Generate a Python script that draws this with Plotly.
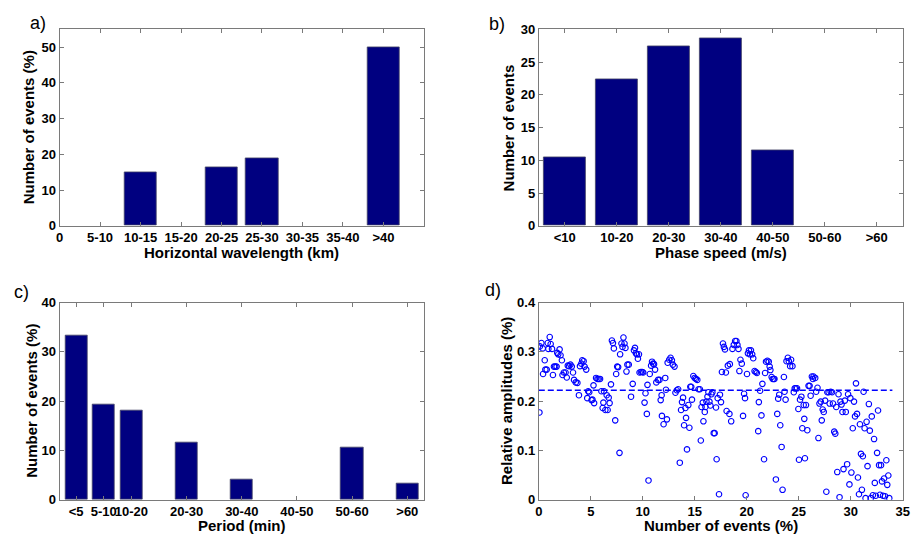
import plotly.graph_objects as go

# ---- data ----
wavelength_labels = ["0", "5-10", "10-15", "15-20", "20-25", "25-30", "30-35", "35-40", ">40"]
wavelength_pct = [0, 0, 14.9, 0, 16.3, 19.0, 0, 0, 50.0]

speed_labels = ["<10", "10-20", "20-30", "30-40", "40-50", "50-60", ">60"]
speed_counts = [10.4, 22.4, 27.4, 28.6, 11.5, 0, 0]

period_centers = [5, 10, 15, 25, 35, 45, 55, 65]
period_labels = ["<5", "5-10", "10-20", "20-30", "30-40", "40-50", "50-60", ">60"]
period_pct = [33.3, 19.3, 18.0, 11.6, 4.1, 0, 10.5, 3.2]

events_pct = [
    0.06, 0.10, 0.25, 0.38, 0.41, 0.57, 0.63, 0.76, 0.86, 0.92, 1.05, 1.14, 1.27, 1.36, 1.46,
    1.58, 1.71, 1.77, 1.87, 2.00, 2.09, 2.22, 2.28, 2.41, 2.57, 2.69, 2.79, 2.91, 3.04, 3.17,
    3.29, 3.39, 3.55, 3.71, 3.86, 3.96, 4.09, 4.18, 4.31, 4.40, 4.56, 4.66, 4.75, 4.85, 5.07,
    5.16, 5.26, 5.32, 5.51, 5.64, 5.76, 5.89, 6.02, 6.14, 6.21, 6.27, 6.40, 6.53, 6.62, 6.72,
    6.81, 6.94, 7.03, 7.13, 7.22, 7.35, 7.44, 7.54, 7.63, 7.76, 7.82, 7.95, 8.05, 8.14, 8.24,
    8.33, 8.43, 8.52, 8.65, 8.87, 9.03, 9.15, 9.25, 9.34, 9.44, 9.53, 9.63, 9.69, 9.82, 9.95,
    10.04, 10.17, 10.26, 10.39, 10.45, 10.55, 10.67, 10.80, 10.89, 10.99, 11.08, 11.18, 11.30,
    11.47, 11.60, 11.72, 11.81, 11.84, 12.00, 12.16, 12.23, 12.32, 12.39, 12.54, 12.67, 12.80,
    12.89, 13.05, 13.14, 13.27, 13.40, 13.56, 13.68, 13.77, 13.87, 13.97, 14.10, 14.16, 14.25,
    14.38, 14.48, 14.57, 14.66, 14.73, 14.86, 14.99, 15.11, 15.24, 15.36, 15.49, 15.58, 15.65,
    15.77, 15.83, 15.96, 16.02, 16.12, 16.22, 16.31, 16.41, 16.50, 16.60, 16.69, 16.82, 16.91,
    17.04, 17.10, 17.20, 17.33, 17.42, 17.52, 17.61, 17.71, 17.80, 17.90, 17.99, 18.06, 18.18,
    18.33, 18.37, 18.50, 18.62, 18.75, 18.88, 19.00, 19.10, 19.20, 19.29, 19.39, 19.52, 19.64,
    19.74, 19.83, 19.89, 20.02, 20.11, 20.21, 20.30, 20.40, 20.52, 20.62, 20.75, 20.87, 20.97,
    21.10, 21.16, 21.28, 21.41, 21.50, 21.66, 21.76, 21.85, 21.98, 22.11, 22.20, 22.27, 22.39,
    22.49, 22.59, 22.66, 22.80, 22.93, 23.02, 23.12, 23.22, 23.35, 23.44, 23.57, 23.63, 23.73,
    23.82, 23.95, 24.04, 24.17, 24.26, 24.39, 24.52, 24.61, 24.71, 24.83, 24.96, 25.02, 25.12,
    25.25, 25.34, 25.47, 25.53, 25.59, 25.69, 25.82, 25.94, 26.04, 26.14, 26.26, 26.36, 26.42,
    26.58, 26.67, 26.80, 26.89, 26.99, 27.11, 27.21, 27.30, 27.40, 27.53, 27.65, 27.75, 27.87,
    27.97, 28.07, 28.20, 28.29, 28.41, 28.51, 28.60, 28.70, 28.82, 28.92, 29.01, 29.11, 29.20,
    29.30, 29.43, 29.52, 29.65, 29.74, 29.87, 29.96, 30.06, 30.19, 30.31, 30.41, 30.50, 30.60,
    30.69, 30.79, 30.88, 30.98, 31.07, 31.16, 31.23, 31.33, 31.42, 31.52, 31.61, 31.74, 31.83,
    31.93, 32.02, 32.12, 32.24, 32.31, 32.40, 32.53, 32.62, 32.72, 32.81, 32.91, 33.00, 33.10,
    33.20, 33.29, 33.42, 33.51, 33.61, 33.70,
]
rel_amplitude = [
    0.177, 0.311, 0.318, 0.307, 0.255, 0.283, 0.264, 0.264, 0.318, 0.306, 0.330, 0.316, 0.306,
    0.253, 0.270, 0.270, 0.270, 0.298, 0.295, 0.305, 0.293, 0.283, 0.253, 0.258, 0.258, 0.248,
    0.272, 0.271, 0.274, 0.270, 0.258, 0.243, 0.238, 0.237, 0.212, 0.271, 0.276, 0.283, 0.281,
    0.270, 0.264, 0.206, 0.220, 0.218, 0.202, 0.203, 0.232, 0.196, 0.247, 0.245, 0.245, 0.245,
    0.220, 0.186, 0.197, 0.220, 0.182, 0.212, 0.182, 0.207, 0.196, 0.234, 0.323, 0.318, 0.307,
    0.161, 0.255, 0.270, 0.269, 0.095, 0.295, 0.317, 0.310, 0.329, 0.317, 0.308, 0.260, 0.274,
    0.274, 0.209, 0.235, 0.303, 0.308, 0.297, 0.295, 0.286, 0.295, 0.258, 0.259, 0.259, 0.258,
    0.197, 0.216, 0.174, 0.233, 0.039, 0.255, 0.272, 0.280, 0.276, 0.275, 0.264, 0.238, 0.243,
    0.243, 0.202, 0.212, 0.170, 0.153, 0.247, 0.223, 0.163, 0.278, 0.284, 0.288, 0.283, 0.274,
    0.270, 0.217, 0.222, 0.224, 0.075, 0.182, 0.198, 0.207, 0.151, 0.186, 0.166, 0.102, 0.192,
    0.146, 0.229, 0.229, 0.203, 0.251, 0.247, 0.245, 0.243, 0.224, 0.224, 0.120, 0.188, 0.197,
    0.159, 0.178, 0.188, 0.199, 0.209, 0.218, 0.199, 0.191, 0.214, 0.218, 0.135, 0.135, 0.187,
    0.082, 0.206, 0.011, 0.213, 0.198, 0.259, 0.317, 0.310, 0.305, 0.258, 0.180, 0.272, 0.174,
    0.275, 0.159, 0.306, 0.314, 0.322, 0.322, 0.314, 0.306, 0.261, 0.284, 0.276, 0.170, 0.215,
    0.206, 0.009, 0.255, 0.297, 0.303, 0.295, 0.303, 0.295, 0.287, 0.261, 0.259, 0.257, 0.139,
    0.198, 0.221, 0.171, 0.235, 0.082, 0.257, 0.280, 0.282, 0.280, 0.270, 0.263, 0.249, 0.245,
    0.245, 0.245, 0.041, 0.174, 0.205, 0.213, 0.151, 0.107, 0.020, 0.249, 0.219, 0.203, 0.281,
    0.288, 0.281, 0.271, 0.284, 0.271, 0.218, 0.226, 0.226, 0.226, 0.184, 0.081, 0.203, 0.209,
    0.145, 0.192, 0.164, 0.084, 0.192, 0.141, 0.231, 0.231, 0.211, 0.250, 0.245, 0.250, 0.247,
    0.219, 0.227, 0.125, 0.195, 0.199, 0.161, 0.183, 0.178, 0.201, 0.016, 0.218, 0.218, 0.195,
    0.219, 0.218, 0.195, 0.138, 0.134, 0.188, 0.056, 0.214, 0.005, 0.199, 0.193, 0.178, 0.062,
    0.201, 0.178, 0.072, 0.214, 0.031, 0.206, 0.055, 0.145, 0.199, 0.169, 0.236, 0.174, 0.045,
    0.011, 0.153, 0.093, 0.020, 0.088, 0.219, 0.145, 0.003, 0.158, 0.068, 0.194, 0.140, 0.003,
    0.169, 0.009, 0.123, 0.034, 0.008, 0.095, 0.181, 0.070, 0.010, 0.070, 0.037, 0.008, 0.043,
    0.007, 0.080, 0.030, 0.049, 0.003,
]
mean_amplitude = 0.222
mean_line_x = [0, 34]

# ---- styling ----
W, H = 916, 541
FONT = "Liberation Sans, Arial, sans-serif"
BAR_COLOR = "#000080"
BAR_EDGE = "#444466"
AXIS_GREY = "#7a7a7a"


def dom_x(left, right):
    return [left / W, right / W]


def dom_y(top, bottom):
    return [1 - bottom / H, 1 - top / H]


def axis_style(**kw):
    base = dict(
        showline=True, linecolor=AXIS_GREY, linewidth=1, mirror="ticks",
        ticks="inside", ticklen=4, tickcolor=AXIS_GREY, tickwidth=1,
        showgrid=False, zeroline=False, fixedrange=True, tickangle=0,
        ticklabeloverflow="allow",
        tickfont=dict(family=FONT, size=13, color="black", weight="bold"),
    )
    base.update(kw)
    return base


def bar_marker(values):
    # empty bins get no outline so nothing is drawn for them
    return dict(color=BAR_COLOR,
                line=dict(color=BAR_EDGE, width=[0.8 if v > 0 else 0 for v in values]))


fig = go.Figure()

fig.add_trace(go.Bar(x=list(range(len(wavelength_labels))), y=wavelength_pct, width=0.8,
                     marker=bar_marker(wavelength_pct), xaxis="x", yaxis="y"))
fig.add_trace(go.Bar(x=list(range(len(speed_labels))), y=speed_counts, width=0.8,
                     marker=bar_marker(speed_counts), xaxis="x2", yaxis="y2"))
fig.add_trace(go.Bar(x=period_centers, y=period_pct, width=4,
                     marker=bar_marker(period_pct), xaxis="x3", yaxis="y3"))
fig.add_trace(go.Scatter(x=events_pct, y=rel_amplitude, mode="markers",
                         marker=dict(symbol="circle-open", size=5.5, color="#0000ff",
                                     line=dict(width=1.1, color="#0000ff")),
                         xaxis="x4", yaxis="y4"))
fig.add_trace(go.Scatter(x=mean_line_x, y=[mean_amplitude, mean_amplitude], mode="lines",
                         line=dict(color="#0000ff", width=1.4, dash="6px,3px"),
                         xaxis="x4", yaxis="y4"))

top_row = (23, 225)
bot_row = (304, 506.7)
left_col = (56.3, 425)
right_col = (541.3, 909.7)

fig.update_layout(
    width=W, height=H,
    margin=dict(l=0, r=0, t=0, b=0),
    paper_bgcolor="white", plot_bgcolor="white",
    showlegend=False, bargap=0,
    xaxis=axis_style(domain=dom_x(*left_col), anchor="y", range=[0, 9],
                     tickvals=list(range(len(wavelength_labels))), ticktext=wavelength_labels),
    yaxis=axis_style(domain=dom_y(*top_row), anchor="x", range=[0, 55],
                     tickvals=[0, 10, 20, 30, 40, 50]),
    xaxis2=axis_style(domain=dom_x(*right_col), anchor="y2", range=[-0.5, 6.5],
                      tickvals=list(range(len(speed_labels))), ticktext=speed_labels),
    yaxis2=axis_style(domain=dom_y(*top_row), anchor="x2", range=[0, 30],
                      tickvals=[0, 5, 10, 15, 20, 25, 30]),
    xaxis3=axis_style(domain=dom_x(*left_col), anchor="y3", range=[2, 68],
                      tickvals=period_centers, ticktext=period_labels),
    yaxis3=axis_style(domain=dom_y(*bot_row), anchor="x3", range=[0, 40],
                      tickvals=[0, 10, 20, 30, 40]),
    xaxis4=axis_style(domain=dom_x(*right_col), anchor="y4", range=[0, 35],
                      tickvals=[0, 5, 10, 15, 20, 25, 30, 35]),
    yaxis4=axis_style(domain=dom_y(*bot_row), anchor="x4", range=[0, 0.4],
                      tickvals=[0, 0.1, 0.2, 0.3, 0.4],
                      ticktext=["0", "0.1", "0.2", "0.3", "0.4"]),
)

title_font = dict(family=FONT, size=15, color="black", weight="bold")
panel_font = dict(family=FONT, size=18, color="black")


def px_ann(text, x, y, font, angle=0, xanchor="center"):
    fig.add_annotation(text=text, x=x / W, y=1 - y / H, xref="paper", yref="paper",
                       showarrow=False, font=font, textangle=angle,
                       xanchor=xanchor, yanchor="middle")


# axis titles
px_ann("Horizontal wavelength (km)", sum(left_col) / 2, 252, title_font)
px_ann("Phase speed (m/s)", sum(right_col) / 2, 252, title_font)
px_ann("Period (min)", sum(left_col) / 2, 533, title_font)
px_ann("Number of events (%)", sum(right_col) / 2, 533, title_font)
px_ann("Number of events (%)", 25, sum(top_row) / 2, title_font, angle=-90)
px_ann("Number of events", 511, sum(top_row) / 2, title_font, angle=-90)
px_ann("Number of events (%)", 27, sum(bot_row) / 2, title_font, angle=-90)
px_ann("Relative amplitudes (%)", 508, sum(bot_row) / 2, title_font, angle=-90)

# panel letters
px_ann("a)", 24, 16, panel_font, xanchor="left")
px_ann("b)", 489, 17, panel_font, xanchor="left")
px_ann("c)", 8, 293, panel_font, xanchor="left")
px_ann("d)", 485, 291, panel_font, xanchor="left")

fig.write_html("out.html")
